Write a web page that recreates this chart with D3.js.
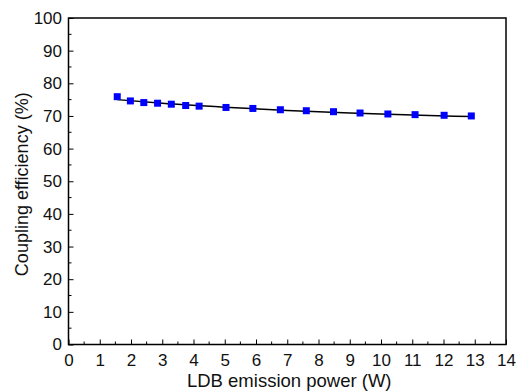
<!DOCTYPE html>
<html><head><meta charset="utf-8">
<script src="https://cdn.jsdelivr.net/npm/d3@7"></script>
<style>body{margin:0;background:#fff}svg text{font-family:"Liberation Sans",Arial,sans-serif;fill:#111}</style>
</head><body><svg id="c" width="517" height="392"></svg>
<script>
const powerW = [1.56,1.98,2.41,2.85,3.29,3.75,4.18,5.04,5.90,6.78,7.61,8.48,9.33,10.22,11.09,12.02,12.89];
const efficiency = [75.9,74.6,74.1,73.9,73.6,73.2,73.0,72.6,72.3,71.9,71.6,71.3,70.9,70.6,70.4,70.2,70.0];
const fitX = [1.56,3,5,7,9,11,12.89];
const fitY = [75.0,73.9,72.7,71.7,70.9,70.3,69.8];
const xTicks = d3.range(0,15,1);
const yTicks = d3.range(0,101,10);

const svg = d3.select("#c");
const m = {l:68.5,r:506,t:18,b:344.5};
const x = d3.scaleLinear().domain([0,14]).range([m.l,m.r]);
const y = d3.scaleLinear().domain([0,100]).range([m.b,m.t]);

svg.append("rect").attr("x",m.l).attr("y",m.t).attr("width",m.r-m.l).attr("height",m.b-m.t)
  .attr("fill","none").attr("stroke","#000").attr("stroke-width",1.5);

const gx = svg.append("g").attr("transform",`translate(0,${m.b})`);
gx.selectAll("line.minor").data(d3.range(0.5,14,1)).join("line")
  .attr("x1",d=>x(d)).attr("x2",d=>x(d)).attr("y1",0).attr("y2",-3).attr("stroke","#000");
gx.call(d3.axisBottom(x).tickValues(xTicks).tickSize(-5).tickFormat(d3.format("d")))
  .call(g=>g.select(".domain").remove())
  .call(g=>g.selectAll("text").attr("font-size",17).attr("y",21).attr("dy",0));

const gy = svg.append("g").attr("transform",`translate(${m.l},0)`);
gy.selectAll("line.minor").data(d3.range(5,100,10)).join("line")
  .attr("x1",0).attr("x2",3).attr("y1",d=>y(d)).attr("y2",d=>y(d)).attr("stroke","#000");
gy.call(d3.axisLeft(y).tickValues(yTicks).tickSize(-5).tickPadding(6.5))
  .call(g=>g.select(".domain").remove())
  .call(g=>g.selectAll("text").attr("font-size",17));
svg.selectAll(".tick line").attr("stroke","#000");

svg.append("text").attr("x",(m.l+m.r)/2+2).attr("y",386.5).attr("text-anchor","middle")
  .attr("font-size",18.5).text("LDB emission power (W)");
svg.append("text").attr("transform",`translate(28,${(m.t+m.b)/2+3}) rotate(-90)`)
  .attr("text-anchor","middle").attr("font-size",18).text("Coupling efficiency (%)");

const line = d3.line().x(d=>x(d[0])).y(d=>y(d[1])).curve(d3.curveMonotoneX);
svg.append("path").datum(fitX.map((d,i)=>[d,fitY[i]])).attr("d",line)
  .attr("fill","none").attr("stroke","#000").attr("stroke-width",1.5);

const s=7;
svg.selectAll("rect.pt").data(powerW.map((d,i)=>[d,efficiency[i]])).join("rect")
  .attr("x",d=>x(d[0])-s/2).attr("y",d=>y(d[1])-s/2).attr("width",s).attr("height",s)
  .attr("fill","#0000ff");
</script></body></html>
